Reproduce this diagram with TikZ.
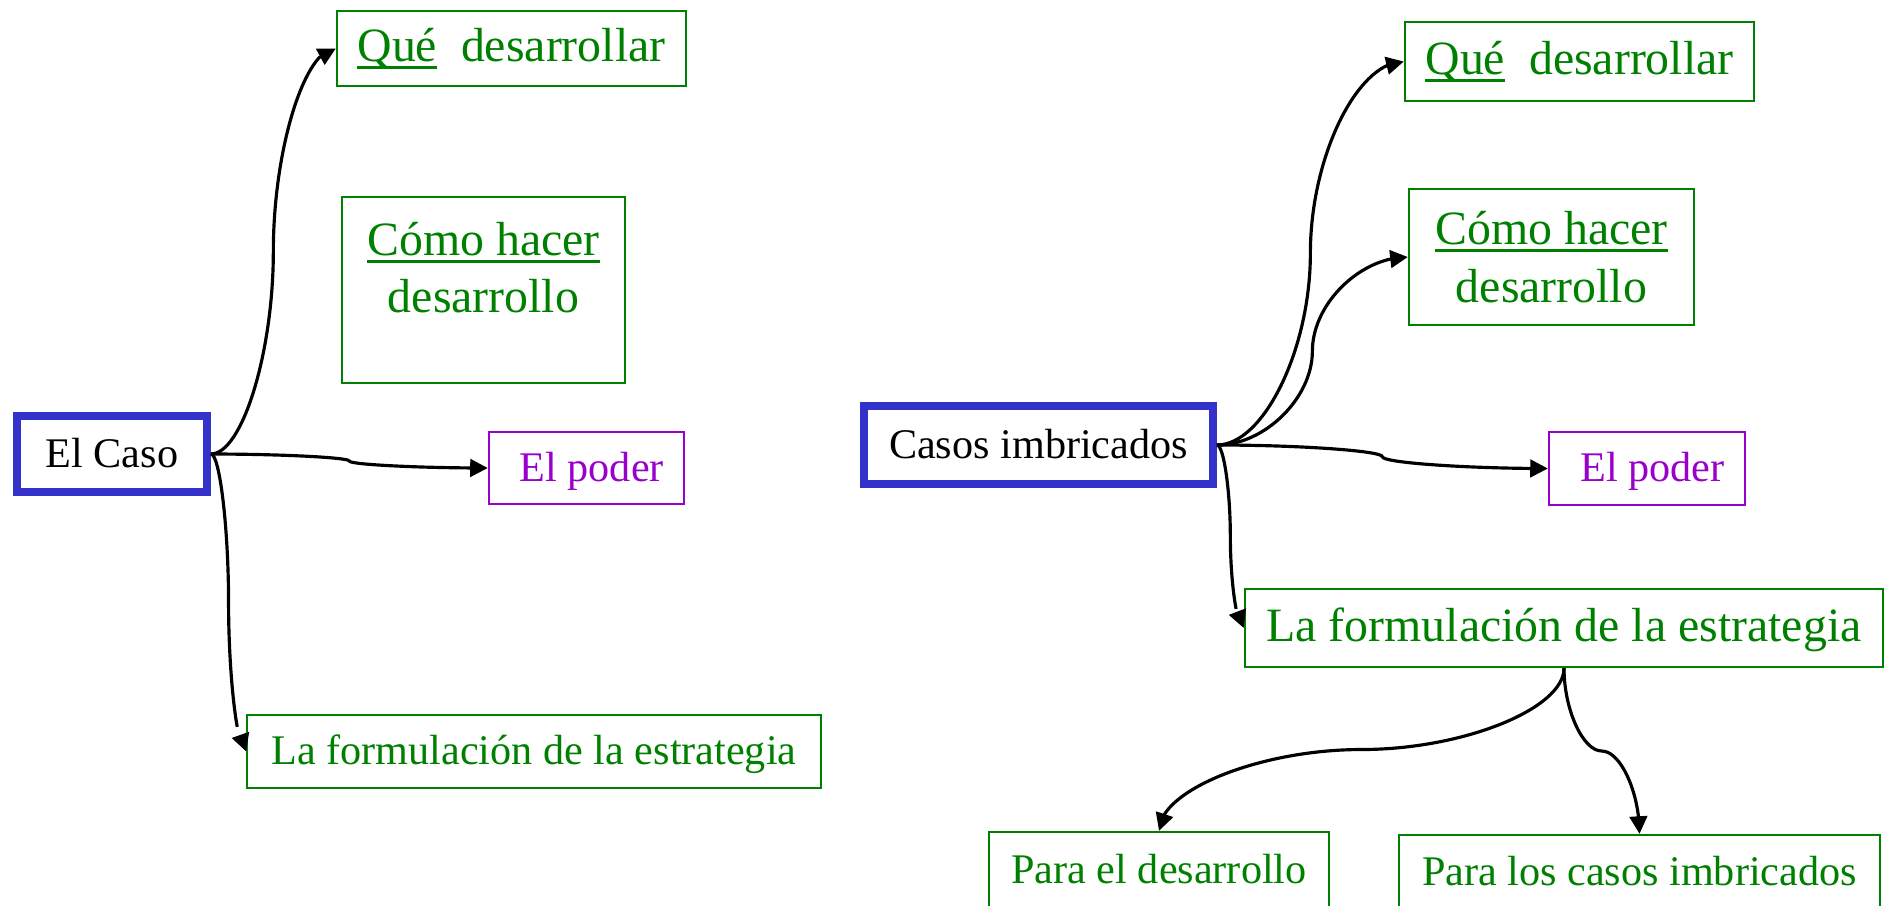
\documentclass[tikz,border=0pt]{standalone}
\usepackage{fontspec}
\setmainfont{Liberation Serif}
\usepackage{tikz}
\usetikzlibrary{math,calc,arrows.meta,bending}

\definecolor{verde}{RGB}{0,128,0}
\definecolor{morado}{RGB}{153,0,204}
\definecolor{azul}{RGB}{51,51,204}

\newcommand{\subraya}[1]{\setbox0\hbox{#1}\rlap{\rule[-2.1pt]{\wd0}{0.75pt}}\box0}

\begin{document}
\begin{tikzpicture}[x=0.01cm,y=-0.01cm,
	marco/.style={draw=verde,text=verde,line width=0.65pt,inner sep=0pt,align=center},
	grande/.style={font=\fontsize{13.6}{16.3}\selectfont},
	chica/.style={font=\fontsize{12}{14.4}\selectfont},
	linea/.style={text height=0.74em,text depth=0pt},
	caja/.style={marco,grande,linea},
	dosl/.style={marco,grande},
	cajita/.style={marco,chica,linea},
	poder/.style={cajita,draw=morado,text=morado},
	raiz/.style={draw=azul,line width=2.2pt,inner sep=0pt,chica,linea},
	flecha/.style={line width=0.9pt,-{Triangle[length=5pt,width=5pt,flex]}},
	codo/.style={to path={let \p1=(\tikztostart),\p2=(\tikztotarget) in
		.. controls ({0.75*\x1+0.25*\x2},\y1) and ({0.5*\x1+0.5*\x2},{0.75*\y1+0.25*\y2})
		.. ({0.5*\x1+0.5*\x2},{0.5*\y1+0.5*\y2})
		.. controls ({0.5*\x1+0.5*\x2},{0.25*\y1+0.75*\y2}) and ({0.25*\x1+0.75*\x2},\y2)
		.. (\tikztotarget)}},
	codov/.style={to path={let \p1=(\tikztostart),\p2=(\tikztotarget) in
		.. controls (\x1,{0.75*\y1+0.25*\y2}) and ({0.75*\x1+0.25*\x2},{0.5*\y1+0.5*\y2})
		.. ({0.5*\x1+0.5*\x2},{0.5*\y1+0.5*\y2})
		.. controls ({0.25*\x1+0.75*\x2},{0.5*\y1+0.5*\y2}) and (\x2,{0.25*\y1+0.75*\y2})
		.. (\tikztotarget)}}]
\useasboundingbox (0,0) rectangle (1889,905);
\tikzmath{
	\yc = 454; \yr = 445;
	\xl = 511.5; \xr = 1579.5;
	%
	{\node[raiz,minimum width=1.90cm,minimum height=0.76cm] (caso) at (112,\yc) {El Caso};};
	{\node[caja,minimum width=3.49cm,minimum height=0.75cm] (queL) at (\xl,48.5) {\subraya{Qué}~ desarrollar};};
	{\node[dosl,minimum width=2.83cm,minimum height=1.86cm] (comoL) at (483.5,290) {\subraya{Cómo hacer}\\desarrollo\\[-3.4pt]~};};
	{\node[poder,minimum width=1.95cm,minimum height=0.72cm] (poderL) at (586.5,468) {\ El poder};};
	{\node[cajita,minimum width=5.73cm,minimum height=0.73cm] (formL) at (534,751.5) {La formulación de la estrategia};};
	%
	{\node[raiz,minimum width=3.49cm,minimum height=0.78cm] (casos) at (1038.5,\yr) {Casos imbricados};};
	{\node[caja,minimum width=3.49cm,minimum height=0.79cm] (queR) at (\xr,61.5) {\subraya{Qué}~ desarrollar};};
	{\node[dosl,minimum width=2.85cm,minimum height=1.36cm] (comoR) at (1551.5,257) {\subraya{Cómo hacer}\\desarrollo};};
	{\node[poder,minimum width=1.96cm,minimum height=0.73cm] (poderR) at (1647,468.5) {\ El poder};};
	{\node[caja,minimum width=6.38cm,minimum height=0.78cm] (formR) at (1564,628) {La formulación de la estrategia};};
	{\node[cajita,minimum width=3.40cm,minimum height=0.76cm] (paraDes) at (1159,870) {Para el desarrollo};};
	{\node[cajita,minimum width=4.81cm,minimum height=0.74cm] (paraCasos) at (1639.5,872) {Para los casos imbricados};};
	%
	{\draw[flecha] (caso.east) to[codo] (queL.west);};
	{\draw[flecha] (caso.east) to[codo] (poderL.west);};
	{\draw[flecha] (caso.east) to[codo] (formL.west);};
	{\draw[flecha] (casos.east) to[codo] (queR.west);};
	{\draw[flecha] (casos.east) to[codo] (comoR.west);};
	{\draw[flecha] (casos.east) to[codo] (poderR.west);};
	{\draw[flecha] (casos.east) to[codo] (formR.west);};
	{\draw[flecha] (formR.south) to[codov] (paraDes.north);};
	{\draw[flecha] (formR.south) to[codov] (paraCasos.north);};
};
\end{tikzpicture}
\end{document}
